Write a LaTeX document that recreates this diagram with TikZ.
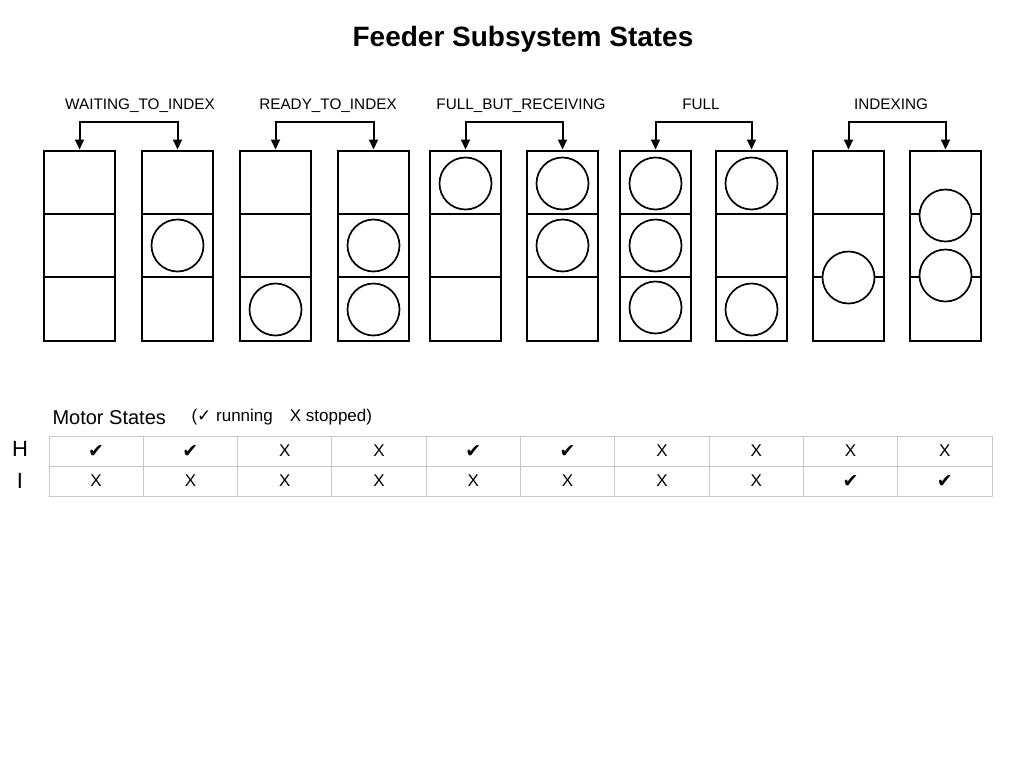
\documentclass[tikz,border=0pt]{standalone}
\usepackage{fontspec}
\setmainfont{Liberation Sans}
\newfontfamily\symfont{DejaVu Sans}
\usetikzlibrary{arrows.meta}

\newcommand{\ok}{{\symfont ✓}}
\newcommand{\okb}{{\symfont\fontsize{19}{20}\selectfont ✔}}

\begin{document}
\begin{tikzpicture}[x=1pt,y=-1pt,>={Triangle[length=10pt,width=9pt]},
	slot/.style={draw,line width=2pt,minimum width=71pt,minimum height=190pt,inner sep=0pt},
	ball/.style={draw,circle,fill=white,line width=1.7pt,minimum size=52pt,inner sep=0pt},
	lbl/.style={anchor=base,font=\fontsize{15.3}{17}\selectfont},
	cell/.style={draw=black!22,line width=1pt,minimum width=94.3pt,minimum height=30pt,inner sep=0pt,font=\fontsize{17}{19}\selectfont}]
	\useasboundingbox (0,0) rectangle (1024,768);

	\node[font=\bfseries\fontsize{28}{32}\selectfont] (title) at (523,39) {Feeder Subsystem States};

	% feeder slots
	\foreach \n/\x in {1/44,2/142,3/240,4/338,5/430,6/527,7/620,8/716,9/813,10/910} {
		\node[slot] (c\n) at (\x+35.5,245.5) {};
		\draw[line width=2pt] (c\n.north west) ++(0,64.5) -- ++(71,0);
		\draw[line width=2pt] (c\n.north west) ++(0,127.5) -- ++(71,0);
	}
	\foreach \n/\dy [count=\i] in {2/0,3/64,4/0,4/64,5/-62,6/-62,6/0,7/-62,7/0,7/62,8/-62,8/64,9/32,10/-30,10/30}
		\path (c\n.center) ++(0,\dy) node[ball] (ball\i) {};

	% states
	\node[lbl] (l1) at (140,109) {WAITING\_TO\_INDEX};
	\node[lbl] (l2) at (328,109) {READY\_TO\_INDEX};
	\node[lbl] (l3) at (521,109) {FULL\_BUT\_RECEIVING};
	\node[lbl] (l4) at (701,109) {FULL};
	\node[lbl] (l5) at (891,109) {INDEXING};

	\draw[<->,line width=2pt] (c1.north) -- ++(0,-28) -| (c2.north);
	\draw[<->,line width=2pt] (c3.north) -- ++(0,-28) -| (c4.north);
	\draw[<->,line width=2pt] (c5.north) -- ++(0,-28) -| (c6.north);
	\draw[<->,line width=2pt] (c7.north) -- ++(0,-28) -| (c8.north);
	\draw[<->,line width=2pt] (c9.north) -- ++(0,-28) -| (c10.north);

	% motor table
	\node[anchor=west,font=\fontsize{20}{22}\selectfont] (motor) at (49,418) {Motor States};
	\node[anchor=west,font=\fontsize{17}{20}\selectfont] (key) at (188,417) {(\ok{} running\quad X stopped)};
	\node[font=\fontsize{22}{24}\selectfont] (rh) at (20,449) {H};
	\node[font=\fontsize{22}{24}\selectfont] (ri) at (20,481) {I};

	\foreach \m [count=\i] in {\okb,\okb,X,X,\okb,\okb,X,X,X,X}
		\node[cell] (h\i) at (49+94.3*\i-47.15,451) {\m};
	\foreach \m [count=\i] in {X,X,X,X,X,X,X,X,\okb,\okb}
		\node[cell] (i\i) at (49+94.3*\i-47.15,481) {\m};
\end{tikzpicture}
\end{document}
